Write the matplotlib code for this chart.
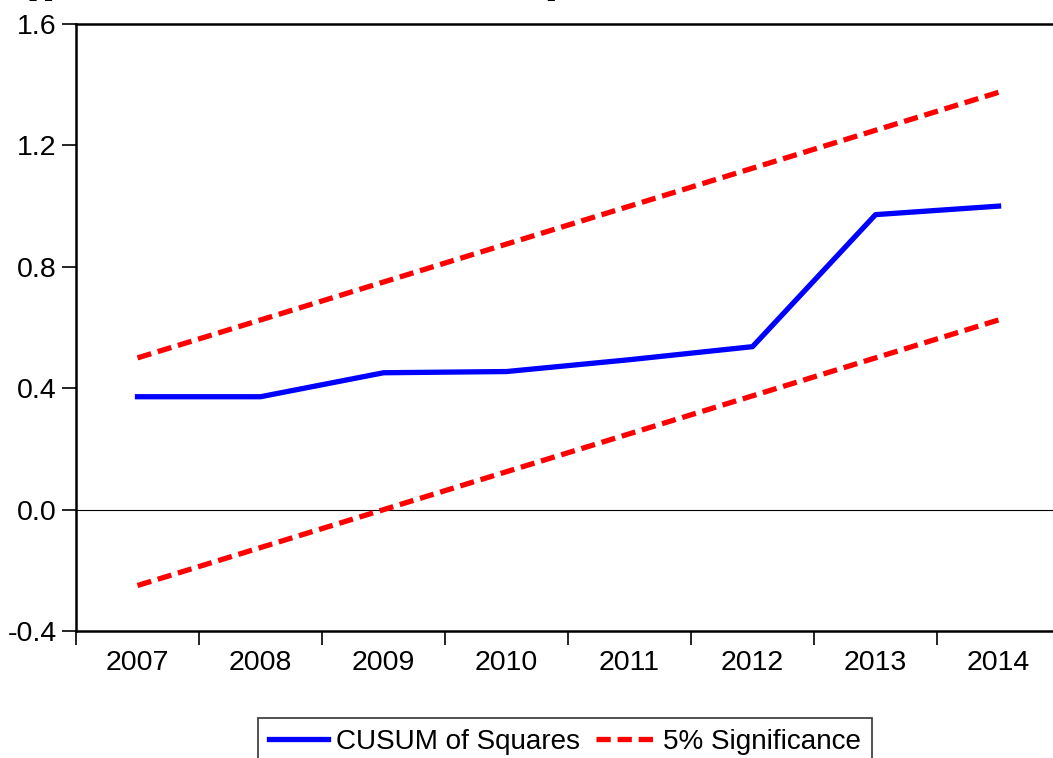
import matplotlib
matplotlib.use("Agg")
import matplotlib.pyplot as plt
import numpy as np

years = ["2007", "2008", "2009", "2010", "2011", "2012", "2013", "2014"]
cusum_sq = [0.372, 0.372, 0.451, 0.455, 0.494, 0.537, 0.972, 1.000]
upper_5 = [0.500, 0.625, 0.750, 0.875, 1.000, 1.125, 1.250, 1.375]
lower_5 = [-0.250, -0.125, 0.000, 0.125, 0.250, 0.375, 0.500, 0.625]
yticks = [-0.4, 0.0, 0.4, 0.8, 1.2, 1.6]

plt.rcParams['font.family'] = ['Liberation Sans', 'DejaVu Sans']

fig = plt.figure(figsize=(10.53, 7.58), dpi=100)
ax = fig.add_axes([0.0722, 0.1675, 0.9345, 0.8008])

# title sits above the page, only its descenders show at the top edge
fig.text(0.009, 1.0068, "Appendix 4: The CUSUM Test Results for Import",
         fontsize=20, fontweight='bold', family='Liberation Serif', va='baseline')

x = np.arange(len(years)) + 0.5
dash = (0, (2.7, 1.3))
ax.plot(x, cusum_sq, color='#0000ff', lw=3.8, label='CUSUM of Squares')
ax.plot(x, upper_5, color='#ff0000', lw=3.8, ls=dash, label='5% Significance')
ax.plot(x, lower_5, color='#ff0000', lw=3.8, ls=dash)
ax.axhline(0, color='black', lw=0.8, zorder=0)

ax.set_xlim(0, len(years))
ax.set_ylim(-0.4, 1.6)
ax.set_yticks(yticks)
ax.set_yticklabels([f"{v:.1f}" for v in yticks])
ax.set_xticks(np.arange(len(years) + 1))
ax.set_xticklabels([])
ax.set_xticks(x, minor=True)
ax.set_xticklabels(years, minor=True)
ax.tick_params(axis='x', which='major', length=10, width=1.2, direction='out')
ax.tick_params(axis='x', which='minor', length=0, labelsize=20.5, pad=14)
ax.tick_params(axis='y', length=10, width=1.2, direction='out', labelsize=20.5, pad=4)
for s in ['top', 'left', 'bottom']:
    ax.spines[s].set_linewidth(1.8)
ax.spines['right'].set_visible(False)

leg = fig.legend(loc='upper center', bbox_to_anchor=(0.5366, 0.0528), ncol=2,
                 fontsize=20.1, frameon=True, fancybox=False, edgecolor='black',
                 handlelength=2.1, handletextpad=0.29, columnspacing=0.58,
                 borderpad=0.4, borderaxespad=0)
leg.get_frame().set_linewidth(1.2)

fig.savefig("out.png", dpi=100)
